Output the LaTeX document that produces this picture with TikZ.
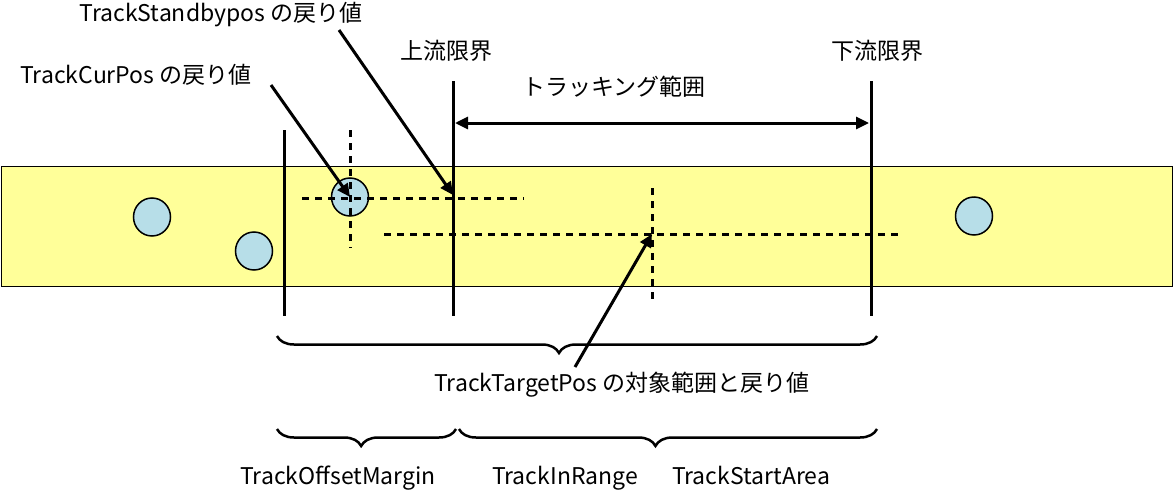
\documentclass[tikz,border=0pt]{standalone}
\usepackage{fontspec}
\setmainfont{Noto Sans CJK JP}
\usetikzlibrary{arrows.meta,decorations.pathreplacing}
\definecolor{bandyellow}{RGB}{255,255,153}
\definecolor{ballblue}{RGB}{183,222,232}
\tikzset{
  lbl/.style={font=\fontsize{23}{26}\selectfont, inner sep=0pt},
  solidline/.style={line width=3pt},
  dotline/.style={line width=3pt, dash pattern=on 6.5pt off 6.5pt},
  arr/.style={line width=3pt, -{Triangle[length=13pt,width=12pt]}},
  darr/.style={line width=3pt, {Triangle[length=13pt,width=12pt]}-{Triangle[length=13pt,width=12pt]}},
  ballst/.style={line width=1.5pt, fill=ballblue},
  brc/.style={line width=2.5pt, decorate, decoration={brace, mirror, amplitude=17pt, aspect=0.47}},
}
\begin{document}
\begin{tikzpicture}[x=1pt,y=-1pt]
\useasboundingbox (0,0) rectangle (1173,490);
% band
\node[draw, line width=1.2pt, fill=bandyellow, minimum width=1171pt, minimum height=120pt, inner sep=0pt, anchor=north west] (band) at (1,166) {};
% balls
\draw[ballst] (152,217) ellipse [x radius=18.5, y radius=19];
\draw[ballst] (254,251) ellipse [x radius=18.5, y radius=19];
\draw[ballst] (350,197) ellipse [x radius=18.5, y radius=19];
\draw[ballst] (974,216) ellipse [x radius=18.5, y radius=19];
\coordinate (cur) at (350,197);
\coordinate (tgt) at (652,234);
\coordinate (sb) at (453,195);
% vertical lines
\coordinate (v1t) at (284,130); \coordinate (v1b) at (284,316);
\coordinate (v2t) at (453,81);  \coordinate (v2b) at (453,316);
\coordinate (v3t) at (871,81);  \coordinate (v3b) at (871,316);
\draw[solidline] (v1t) -- (v1b);
\draw[solidline] (v2t) -- (v2b);
\draw[solidline] (v3t) -- (v3b);
% dotted lines
\coordinate (h1a) at (302,198); \coordinate (h1b) at (524,198);
\coordinate (c1a) at (350,130); \coordinate (c1b) at (350,248);
\coordinate (h2a) at (384,234); \coordinate (h2b) at (904,234);
\coordinate (c2a) at (652,188); \coordinate (c2b) at (652,303);
\draw[dotline] (h1a) -- (h1b);
\draw[dotline] (c1a) -- (c1b);
\draw[dotline] (h2a) -- (h2b);
\draw[dotline] (c2a) -- (c2b);
% range arrow
\coordinate (ra) at (455,123); \coordinate (rb) at (869,123);
\draw[darr] (ra) -- (rb);
% labels
\node[lbl, anchor=base] (sblbl) at (221,21) {TrackStandbypos の戻り値};
\node[lbl, anchor=base] (curlbl) at (136,83) {TrackCurPos の戻り値};
\node[lbl] (uplbl) at (446,51) {上流限界};
\node[lbl] (dnlbl) at (877,51) {下流限界};
\node[lbl] (rnglbl) at (614,87) {トラッキング範囲};
\node[lbl, anchor=base] (tgtlbl) at (622,391) {TrackTargetPos の対象範囲と戻り値};
\node[lbl, anchor=base] (offlbl) at (338,484) {TrackOffsetMargin};
\node[lbl, anchor=base] (inlbl) at (565,484) {TrackInRange};
\node[lbl, anchor=base] (stlbl) at (751,484) {TrackStartArea};
% pointer arrows
\coordinate (curtail) at (271,85);
\coordinate (sbtail) at (339,30);
\coordinate (tgttail) at (575,367);
\draw[arr] (curtail) -- (cur);
\draw[arr] (sbtail) -- (sb);
\draw[arr] (tgttail) -- (tgt);
% braces
\coordinate (b1a) at (277,336); \coordinate (b1b) at (877,336);
\coordinate (b2a) at (277,429); \coordinate (b2b) at (456,429);
\coordinate (b3a) at (459,429); \coordinate (b3b) at (877,429);
\draw[brc] (b1a) -- (b1b);
\draw[brc] (b2a) -- (b2b);
\draw[brc] (b3a) -- (b3b);
\end{tikzpicture}
\end{document}
